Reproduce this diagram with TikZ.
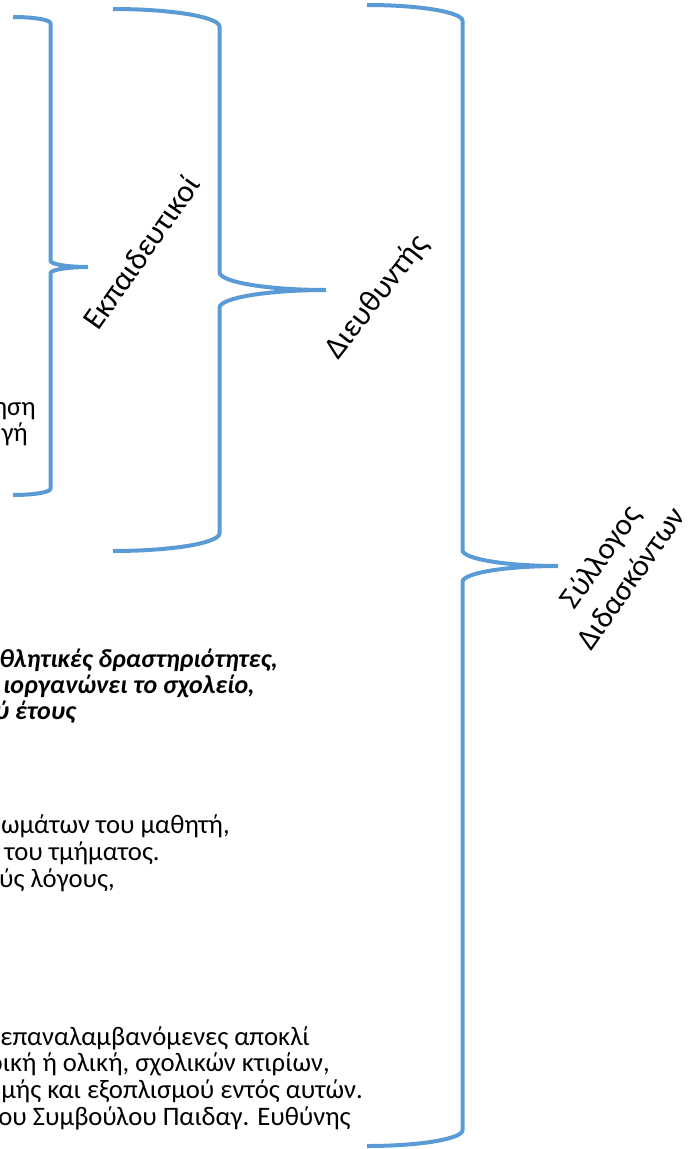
\documentclass[tikz,border=0pt]{standalone}
\usepackage{fontspec}
\setmainfont{Carlito}
\definecolor{bracecol}{HTML}{5B9BD5}
\begin{document}
\begin{tikzpicture}[x=0.75pt,y=-0.75pt,
  brace/.style={draw=bracecol,line width=3pt},
  body/.style={font=\fontsize{20}{24}\selectfont,anchor=base east,inner sep=0pt},
  bodybi/.style={body,font=\fontsize{19.5}{24}\selectfont\bfseries\itshape},
  lab/.style={font=\fontsize{23.5}{28}\selectfont,align=center,inner sep=0pt}]
\useasboundingbox (0,0) rectangle (690,1149);
\clip (0,0) rectangle (690,1149);
% braces
\draw[brace] (13,17) .. controls (33.7,17) and (50.5,19.8) .. (50.5,23.25) -- (50.5,260.75) .. controls (50.5,264.2) and (67.3,267) .. (88,267) .. controls (67.3,267) and (50.5,269.8) .. (50.5,273.25) -- (50.5,488.75) .. controls (50.5,492.2) and (33.7,495) .. (13,495);
\draw[brace] (113,9) .. controls (171.8,9) and (219.5,16.95) .. (219.5,26.75) -- (219.5,272.25) .. controls (219.5,282.05) and (267.2,290) .. (326,290) .. controls (267.2,290) and (219.5,297.95) .. (219.5,307.75) -- (219.5,533.25) .. controls (219.5,543.05) and (171.8,551) .. (113,551);
\draw[brace] (367,5) .. controls (419.7,5) and (462.5,12.1) .. (462.5,20.9) -- (462.5,550.1) .. controls (462.5,558.9) and (505.3,566) .. (558,566) .. controls (505.3,566) and (462.5,573.1) .. (462.5,581.9) -- (462.5,1130.1) .. controls (462.5,1138.9) and (419.7,1146) .. (367,1146);
% labels
\node[lab,rotate=55] (ekp) at (141,252) {Εκπαιδευτικοί};
\node[lab,rotate=52] (dieu) at (377,297) {Διευθυντής};
\node[lab,rotate=55,font=\fontsize{23}{28}\selectfont] (syl) at (615,567) {Σύλλογος\\Διδασκόντων};
% clipped body text
\node[body] (t1) at (36,415) {ηση};
\node[body] (t2) at (28,441) {γή};
\node[bodybi] (b1) at (278,667) {θλητικές δραστηριότητες,};
\node[bodybi] (b2) at (255,693) {ιοργανώνει το σχολείο,};
\node[bodybi] (b3) at (76,719) {ύ έτους};
\node[body] (r1) at (230,833) {ωμάτων του μαθητή,};
\node[body] (r2) at (160,860) {του τμήματος.};
\node[body] (r3) at (115,887) {ύς λόγους,};
\node[body] (s1) at (310,1045) {επαναλαμβανόμενες αποκλί};
\node[body] (s2) at (330,1071) {ρική ή ολική, σχολικών κτιρίων,};
\node[body] (s3) at (363,1098) {μής και εξοπλισμού εντός αυτών.};
\node[body] (s4) at (351,1125) {ου Συμβούλου Παιδαγ. Ευθύνης};
\end{tikzpicture}
\end{document}
